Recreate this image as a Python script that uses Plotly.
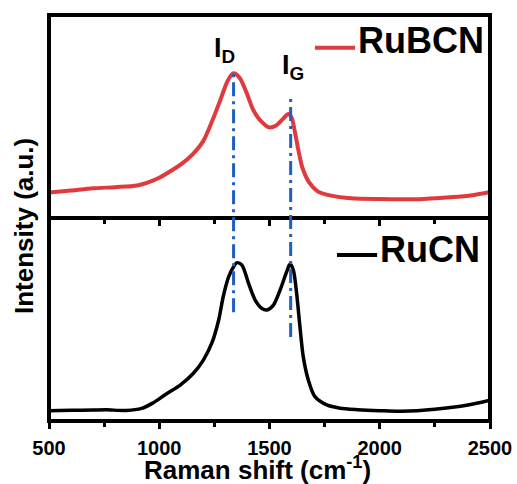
import plotly.graph_objects as go
from plotly.subplots import make_subplots

# Raman spectra (arbitrary intensity units)
rubcn_shift = [500, 600, 700, 800, 900, 950, 1000, 1050, 1100, 1150, 1200, 1250, 1280,
               1310, 1336, 1365, 1395, 1425, 1455, 1500, 1530, 1560, 1585, 1600, 1615,
               1630, 1650, 1680, 1720, 1780, 1870, 2000, 2100, 2200, 2320, 2420, 2500]
rubcn_intensity = [0.125, 0.135, 0.146, 0.152, 0.160, 0.175, 0.198, 0.230, 0.265, 0.312,
                   0.380, 0.505, 0.590, 0.675, 0.713, 0.690, 0.620, 0.535, 0.485, 0.446,
                   0.456, 0.487, 0.512, 0.495, 0.425, 0.340, 0.245, 0.175, 0.130, 0.110,
                   0.097, 0.093, 0.092, 0.094, 0.102, 0.112, 0.128]

rucn_shift = [500, 600, 700, 760, 850, 920, 970, 1030, 1095, 1155, 1200, 1240, 1270, 1290,
              1315, 1337, 1352, 1375, 1405, 1435, 1465, 1488, 1518, 1548, 1578, 1593, 1608,
              1623, 1638, 1653, 1676, 1706, 1760, 1820, 1900, 2000, 2100, 2250, 2400, 2500]
rucn_intensity = [0.051, 0.053, 0.054, 0.055, 0.052, 0.062, 0.088, 0.132, 0.177, 0.235,
                  0.300, 0.388, 0.500, 0.612, 0.711, 0.760, 0.780, 0.768, 0.678, 0.596,
                  0.555, 0.547, 0.571, 0.645, 0.736, 0.773, 0.744, 0.629, 0.465, 0.317,
                  0.202, 0.120, 0.079, 0.063, 0.056, 0.051, 0.048, 0.058, 0.079, 0.103]

# D and G band positions (cm-1)
band_labels = ["I<sub>D</sub>", "I<sub>G</sub>"]
band_positions = [1337, 1596]

x_ticks = [500, 1000, 1500, 2000, 2500]

FONT = "Liberation Sans, Arial, sans-serif"
RED = "#e03a3e"
BLUE = "#1f5fc0"

fig = make_subplots(rows=2, cols=1, shared_xaxes=True, vertical_spacing=0)

fig.add_trace(go.Scatter(x=rubcn_shift, y=rubcn_intensity, mode="lines", name="RuBCN",
                         line=dict(color=RED, width=4, shape="spline", smoothing=0.8),
                         showlegend=False), row=1, col=1)
fig.add_trace(go.Scatter(x=rucn_shift, y=rucn_intensity, mode="lines", name="RuCN",
                         line=dict(color="black", width=3.5, shape="spline", smoothing=0.8),
                         showlegend=False), row=2, col=1)

# panel frames, centred on the plot-area edges
for xr, yr in (("x domain", "y domain"), ("x2 domain", "y2 domain")):
    fig.add_shape(type="rect", xref=xr, yref=yr, x0=0, x1=1, y0=0, y1=1,
                  line=dict(color="black", width=4), layer="above")

# dash-dot markers for the D and G bands, spanning both panels
band_spans = [(0.268, 0.865), (0.207, 0.803)]
for pos, (y0, y1) in zip(band_positions, band_spans):
    fig.add_shape(type="line", xref="x2", yref="paper", x0=pos, x1=pos, y0=y0, y1=y1,
                  line=dict(color=BLUE, width=3, dash="14px,5px,3px,5px"))

band_label_pos = [(0.397, 0.915), (0.553, 0.872)]
for text, (lx, ly) in zip(band_labels, band_label_pos):
    fig.add_annotation(text=text, xref="paper", yref="paper", x=lx, y=ly,
                       xanchor="center", yanchor="middle", showarrow=False,
                       font=dict(family=FONT, size=27, color="black", weight="bold"))

# legend keys drawn as line segments with labels
legend_items = [("RuBCN", RED, 0.603, 0.694, 0.9195, 0.938),
                ("RuCN", "black", 0.653, 0.744, 0.409, 0.423)]
for name, color, lx0, lx1, ly, ty in legend_items:
    fig.add_shape(type="line", xref="paper", yref="paper", x0=lx0, x1=lx1, y0=ly, y1=ly,
                  line=dict(color=color, width=4))
    fig.add_annotation(text=name, xref="paper", yref="paper", x=lx1 + 0.002, y=ty,
                       xanchor="left", yanchor="middle", showarrow=False,
                       font=dict(family=FONT, size=36, color="black", weight="bold"))

# axis titles
fig.add_annotation(text="Raman shift (cm<sup>-1</sup>)", xref="paper", yref="paper",
                   x=0.473, y=-0.118, xanchor="center", yanchor="middle", showarrow=False,
                   font=dict(family=FONT, size=26, color="black", weight="bold"))
fig.add_annotation(text="Intensity (a.u.)", xref="paper", yref="paper", textangle=-90,
                   x=-0.057, y=0.48, xanchor="center", yanchor="middle", showarrow=False,
                   font=dict(family=FONT, size=26, color="black", weight="bold"))

tick_style = dict(ticks="outside", ticklen=7, tickwidth=2.5, tickcolor="black",
                  tickvals=x_ticks,
                  minor=dict(ticks="outside", dtick=250, ticklen=5, tickwidth=2.5,
                             tickcolor="black", showgrid=False))
fig.update_xaxes(range=[500, 2500], showline=False, showgrid=False, zeroline=False,
                 automargin=False, **tick_style)
fig.update_xaxes(row=1, col=1, showticklabels=False)
fig.update_xaxes(row=2, col=1, ticklabelstandoff=2,
                 tickfont=dict(family=FONT, size=20, color="black", weight="bold"))
fig.update_yaxes(range=[0, 1], showline=False, ticks="", showticklabels=False,
                 showgrid=False, zeroline=False, automargin=False)

fig.update_layout(width=517, height=484, margin=dict(l=49, r=27, t=15, b=63),
                  paper_bgcolor="white", plot_bgcolor="white", showlegend=False)

fig.write_html("out.html")
